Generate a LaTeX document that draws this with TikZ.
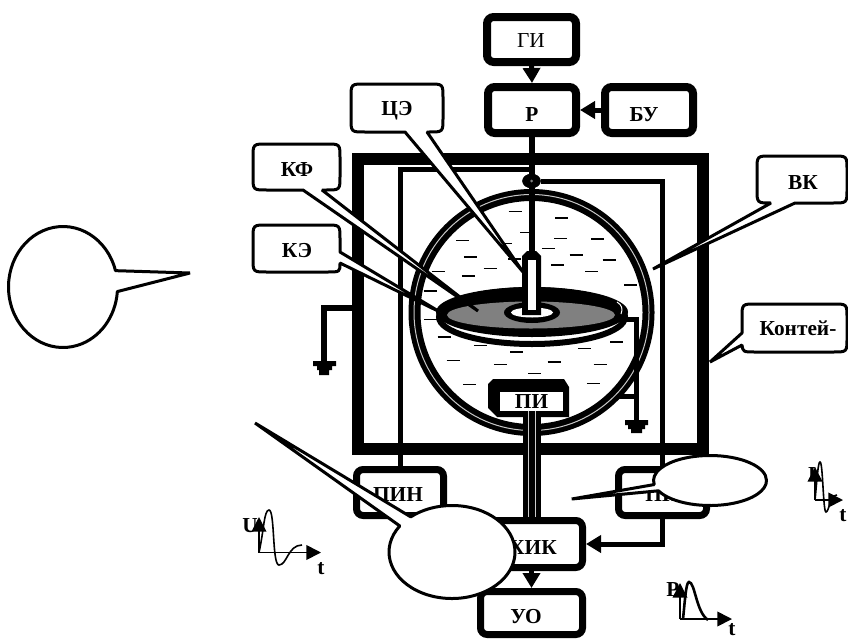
\documentclass[tikz,border=0pt]{standalone}
\usepackage{fontspec}
\setmainfont{Liberation Serif}
\usetikzlibrary{arrows.meta,shapes.geometric,shapes.callouts}
\newcommand{\pxu}{0.75pt}
\tikzset{
  bigtip/.tip={Triangle[length=11.25pt,width=12.75pt]},
  smalltip/.tip={Triangle[length=11pt,width=11pt]},
  blockbox/.style={draw=black,fill=white,line width=8*\pxu,rectangle,rounded corners=5pt,inner sep=0pt},
  lowbox/.style={blockbox,line width=7*\pxu},
  lbl/.style={font=\bfseries\fontsize{16}{16}\selectfont,inner sep=0pt},
  lblthin/.style={font=\fontsize{16}{16}\selectfont,inner sep=0pt},
  wire/.style={draw=black,line width=5*\pxu},
  flow/.style={wire,-{bigtip}},
  tailbox/.style={draw=black,fill=white,line width=3*\pxu,line join=bevel},
  dashmark/.style={draw=black,line width=1.6*\pxu},
  axisline/.style={draw=black,line width=1.7*\pxu,-{smalltip}},
  wave/.style={draw=black,line width=1.6*\pxu},
  balloon/.style={draw=black,fill=white,line width=3*\pxu,line join=bevel,ellipse callout,inner sep=0pt},
  groundpart/.style={fill=black}
}
\begin{document}
\begin{tikzpicture}[x=0.75pt,y=-0.75pt]
\useasboundingbox (0,0) rectangle (848,639);
% container
\draw[line width=12*\pxu,miter limit=10] (358,159) rectangle (703,449);

% blocks
\node[blockbox,minimum width=89*\pxu,minimum height=45*\pxu] (gi) at (531.5,39.5) {};
\node[blockbox,minimum width=88*\pxu,minimum height=46*\pxu] (r) at (532,110) {};
\node[blockbox,minimum width=88*\pxu,minimum height=46*\pxu] (bu) at (649,110) {};
\node[lowbox,minimum width=87*\pxu,minimum height=46*\pxu] (pin) at (400,492.5) {};
\node[lowbox,minimum width=88*\pxu,minimum height=46*\pxu] (pit) at (662.5,492.5) {};
\node[lowbox,minimum width=95*\pxu,minimum height=47*\pxu] (hik) at (535,544) {};
\node[lowbox,minimum width=102*\pxu,minimum height=43*\pxu] (uo) at (531.5,613) {};
\node[lblthin] (tgi) at (531,41) {ГИ};
\node[lbl] (tr) at (532,115) {Р};
\node[lbl] (tbu) at (644,115) {БУ};
\node[lbl] (tpin) at (398,495) {ПИН};
\node[lbl] (tpit) at (662,495) {ПИ};
\node[lbl] (thik) at (533,548) {ХИК};
\node[lbl] (tuo) at (526,617) {УО};

% wires
\node[draw=black,fill=black,ellipse,minimum width=18*\pxu,minimum height=14*\pxu,inner sep=0pt] (junction) at (531.5,181) {};
\coordinate (tubetop) at (532,252);
\coordinate (topjoin) at (532,169);
\draw[wire] (topjoin) -| (pin.north);
\draw[wire] (junction) -| (pit.north);
\draw[flow] (pit.south) |- (hik.east);
\draw[flow] (gi.south) -- (r.north);
\draw[flow] (bu.west) -- (r.east);
\draw[flow] (hik.south -| uo.north) -- (uo.north);

% left earth
\coordinate (gl1) at (352,308);
\coordinate (gl2) at (324,308);
\coordinate (gl3) at (324,362);
\draw[wire,line width=5.5*\pxu] (gl1) -- (gl2) -- (gl3);
\fill[groundpart] (313,361) rectangle (336,366) (317,366) rectangle (332,370) (319,370) rectangle (329,375);

% vessel
\draw[line width=12*\pxu,fill=white] (531.5,312.5) ellipse[x radius=117,y radius=117.5];
\draw[draw=black!22,line width=1*\pxu] (531.5,312.5) ellipse[x radius=117.5,y radius=118];

% liquid marks
\foreach \zx/\zy in {525/215,665/234,368/301,560/277,662/296,773/297,495/310,625/326,391/351,708/345,524/357,653/375,807/360,450/386,295/394,385/408,755/394,872/435,270/453,272/539,312/591,421/617,613/600,830/606,530/636,733/625,339/661,481/673,642/666,780/674,584/700,389/733,760/730}
  \draw[dashmark] ({340+\zx/3-6.5},{140+\zy/3}) -- ++(13,0);

% right earth
\coordinate (gr1) at (626,319);
\coordinate (gr2) at (636,319);
\coordinate (gr3) at (636,421);
\coordinate (gr4) at (617,396);
\coordinate (gr5) at (639,396);
\draw[wire] (gr1) -- (gr2) -- (gr3);
\draw[wire] (gr4) -- (gr5);
\fill[groundpart] (625,420) rectangle (648,425) (628,425) rectangle (645,429) (631,429) rectangle (642,433);

% stem
\draw[draw=black,line width=6*\pxu] (r.south) -- (tubetop);
\fill[black!50] (531.5,181) circle[radius=1.5];

% disc
\draw[fill=white,line width=6*\pxu] (532,317) ellipse[x radius=93,y radius=27];
\fill[black] (532,312) ellipse[x radius=96,y radius=25];
\fill[black!50] (531,315) ellipse[x radius=84,y radius=13.5];
\draw[white,line width=1*\pxu] (617,302) .. controls (622,305) and (623,309) .. (621,314);
\fill[black] (532,312.5) ellipse[x radius=28,y radius=10.5];
\fill[white] (532,312.5) ellipse[x radius=21,y radius=5];
% tube
\fill[black] (522,315) -- (522,256) -- (527,251) -- (536,251) -- (541,256) -- (541,315) -- cycle;
\fill[white] (527.5,260) rectangle (536,310);

% pick-up
\fill[black] (493,379) -- (564,379) -- (569,387) -- (569,417) -- (497,417) -- (488,408) -- (488,384) -- cycle;
\node[fill=white,minimum width=63*\pxu,minimum height=19*\pxu,inner sep=0pt,lbl] (pi) at (531.5,401.5) {ПИ};
% cable
\coordinate (cabletop) at (532,411);
\coordinate (cablebot) at (532,517);
\draw[draw=black,line width=18*\pxu] (cabletop) -- (cablebot);
\draw[draw=black!20,line width=1*\pxu] (528.5,411) -- (528.5,517);
\draw[draw=black!20,line width=1*\pxu] (535.5,411) -- (535.5,517);

% labelled callouts
\draw[tailbox] (405,132) -- (523,272) -- (427,132) -- (429,132) .. controls (443,132) .. (443,118) -- (443,98) .. controls (443,84) .. (429,84) -- (365,84) .. controls (351,84) .. (351,98) -- (351,118) .. controls (351,132) .. (365,132) -- cycle;
\node[lbl] (tce) at (397,111) {ЦЭ};
\draw[tailbox] (303,190) -- (478,311) -- (322,190) -- (326,190) .. controls (340,190) .. (340,176) -- (340,158) .. controls (340,144) .. (326,144) -- (267,144) .. controls (253,144) .. (253,158) -- (253,176) .. controls (253,190) .. (267,190) -- cycle;
\node[lbl] (tkf) at (297,170) {КФ};
\draw[tailbox] (340,252) -- (440,312) -- (340,263) .. controls (340,272) .. (327,272) -- (267,272) .. controls (253,272) .. (253,258) -- (253,239) .. controls (253,225) .. (267,225) -- (326,225) .. controls (340,225) .. (340,239) -- cycle;
\node[lbl] (tke) at (297,251) {КЭ};
\draw[tailbox] (771,203) -- (653,269) -- (795,203) -- (833,203) .. controls (847,203) .. (847,189) -- (847,170) .. controls (847,156) .. (833,156) -- (771,156) .. controls (757,156) .. (757,170) -- (757,189) .. controls (757,203) .. (771,203) -- cycle;
\node[lbl] (tvk) at (803,183) {ВК};
\draw[tailbox] (742,333) -- (710,362) -- (742,345) .. controls (743,352) .. (756,352) -- (833,352) .. controls (847,352) .. (847,338) -- (847,318) .. controls (847,304) .. (833,304) -- (756,304) .. controls (742,304) .. (742,318) -- cycle;
\node[lbl] (tcont) at (798,328) {Контей-};

% blank balloons
\node[balloon,minimum width=109*\pxu,minimum height=121*\pxu,callout absolute pointer={(190,273)},callout pointer arc=20] (b1) at (63,287) {};
\node[balloon,minimum width=126*\pxu,minimum height=93*\pxu,callout absolute pointer={(255,423)},callout pointer arc=15] (b2) at (452,552) {};
\node[balloon,minimum width=113*\pxu,minimum height=50*\pxu,callout absolute pointer={(571.7,499)},callout pointer arc=15] (b3) at (710,480.5) {};

% graph U
\coordinate (uo1) at (259,552.5);
\coordinate (uy) at (259,517);
\coordinate (ux) at (321,552.5);
\node[lbl] (tu) at (250,526) {U};
\node[lbl] (tt1) at (321,569) {t};
\draw[axisline] (uo1) -- (uy);
\draw[axisline] (uo1) -- (ux);
\draw[wave] (uo1) .. controls (264,530) and (264,510) .. (269,510) .. controls (275,510) and (272,565) .. (279,565) .. controls (287,565) and (288,545) .. (302,545);

% graph I
\coordinate (io1) at (815,500);
\coordinate (iy) at (815,467);
\coordinate (ix) at (843,500);
\node[lbl] (ti) at (812,475) {I};
\node[lbl] (tt2) at (843,516) {t};
\draw[axisline] (io1) -- (iy);
\draw[axisline] (io1) -- (ix);
\draw[wave] (io1) .. controls (817,480) and (818,462) .. (820,462) .. controls (823,462) and (823,512) .. (826,512) .. controls (829,512) and (830,495) .. (837,495);

% graph P
\coordinate (po1) at (680,619);
\coordinate (py) at (680,583);
\coordinate (px) at (732,619);
\node[lbl] (tp) at (673,590) {P};
\node[lbl] (tt3) at (732,630) {t};
\draw[axisline] (po1) -- (py);
\draw[axisline] (po1) -- (px);
\draw[wave,line width=2.6*\pxu] (683,619) .. controls (685,600) and (686,582) .. (689,582) .. controls (695,582) and (696,612) .. (708,620);
\end{tikzpicture}
\end{document}
